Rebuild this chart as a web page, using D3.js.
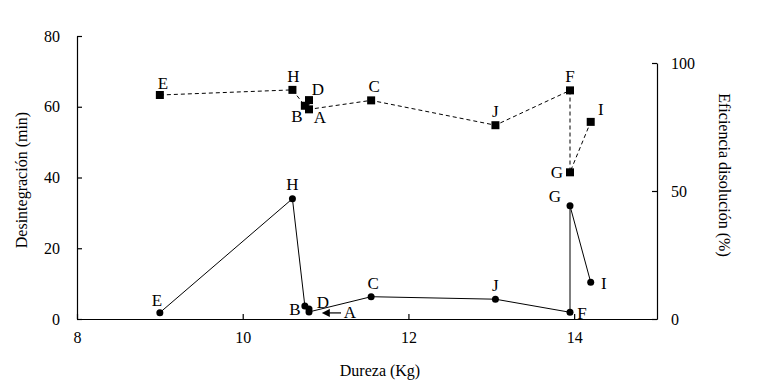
<!DOCTYPE html>
<html>
<head>
<meta charset="utf-8">
<script src="https://cdn.jsdelivr.net/npm/d3@7"></script>
<style>
  body { margin: 0; background: #fff; }
  text { font-family: "Liberation Serif", "DejaVu Serif", serif; fill: #000; }
</style>
</head>
<body>
<div id="chart"></div>
<script>
// tablet formulations, hardness (Kg), disintegration (min), dissolution efficiency (%)
var labels = ["E", "H", "B", "D", "A", "C", "J", "F", "G", "I"];
var dureza = [9.0, 10.6, 10.75, 10.8, 10.8, 11.55, 13.05, 13.95, 13.95, 14.2];
var desintegracion = [1.8, 34, 3.7, 2.8, 2.0, 6.3, 5.6, 1.9, 32, 10.4];
var eficiencia = [87.5, 89.5, 83.3, 85.5, 81.9, 85.4, 75.7, 89.3, 57.3, 77.0];

var xTicks = [8, 10, 12, 14];
var yLeftTicks = [0, 20, 40, 60, 80];
var yRightTicks = [0, 50, 100];

var svgWidth = 760;
var svgHeight = 389;
var serif = "'Liberation Serif', 'DejaVu Serif', serif";

var svg = d3.select("#chart")
  .append("svg")
  .attr("width", svgWidth)
  .attr("height", svgHeight);

var x = d3.scaleLinear().domain([8, 15]).range([77, 657]);
var yLeft = d3.scaleLinear().domain([0, 80]).range([319, 36]);
var yRight = d3.scaleLinear().domain([0, 100]).range([319, 63]);

// axes, ticks pointing inward
svg.append("g")
  .attr("transform", "translate(0,319)")
  .call(d3.axisBottom(x).tickValues(xTicks).tickFormat(d3.format("d"))
    .tickSize(-5).tickSizeOuter(0).tickPadding(13));

svg.append("g")
  .attr("transform", "translate(77,0)")
  .call(d3.axisLeft(yLeft).tickValues(yLeftTicks).tickFormat(d3.format("d"))
    .tickSize(-5).tickSizeOuter(0).tickPadding(17));

svg.append("g")
  .attr("transform", "translate(657,0)")
  .call(d3.axisRight(yRight).tickValues(yRightTicks).tickFormat(d3.format("d"))
    .tickSize(-5).tickSizeOuter(0).tickPadding(14));

svg.selectAll("g")
  .attr("font-family", serif)
  .attr("font-size", 16);
svg.selectAll(".domain, .tick line").attr("stroke", "#000").attr("stroke-width", 1.2);

// axis titles
svg.append("text")
  .attr("x", 380).attr("y", 376)
  .attr("text-anchor", "middle")
  .style("font-size", "16px")
  .text("Dureza (Kg)");

svg.append("text")
  .attr("transform", "translate(27,180) rotate(-90)")
  .attr("text-anchor", "middle")
  .style("font-size", "16px")
  .text("Desintegración (min)");

svg.append("text")
  .attr("transform", "translate(719,175) rotate(90)")
  .attr("text-anchor", "middle")
  .style("font-size", "16px")
  .text("Eficiencia disolución (%)");

var points = labels.map(function(l, i) {
  return { label: l, x: dureza[i], d: desintegracion[i], e: eficiencia[i] };
});

// disintegration: solid line with dots
var lineLeft = d3.line().x(function(p) { return x(p.x); }).y(function(p) { return yLeft(p.d); });
svg.append("path")
  .datum(points)
  .attr("d", lineLeft)
  .attr("fill", "none")
  .attr("stroke", "#000")
  .attr("stroke-width", 1);

svg.selectAll("circle.dot")
  .data(points)
  .enter()
  .append("circle")
  .attr("class", "dot")
  .attr("cx", function(p) { return x(p.x); })
  .attr("cy", function(p) { return yLeft(p.d); })
  .attr("r", 3.5)
  .attr("fill", "#000");

// dissolution efficiency: dashed line with squares
var lineRight = d3.line().x(function(p) { return x(p.x); }).y(function(p) { return yRight(p.e); });
svg.append("path")
  .datum(points)
  .attr("d", lineRight)
  .attr("fill", "none")
  .attr("stroke", "#000")
  .attr("stroke-width", 1)
  .attr("stroke-dasharray", "4,3");

svg.selectAll("rect.sq")
  .data(points)
  .enter()
  .append("rect")
  .attr("class", "sq")
  .attr("x", function(p) { return x(p.x) - 4; })
  .attr("y", function(p) { return yRight(p.e) - 4; })
  .attr("width", 8)
  .attr("height", 8)
  .attr("fill", "#000");

// label offsets (dx, dy from the marker)
var offLower = {
  E: [-3, -7], H: [0, -9], B: [-10, 9], D: [14, -1], A: [41, 6],
  C: [2, -8], J: [0, -8], F: [12, 7], G: [-15, -4], I: [13, 7]
};
var offUpper = {
  E: [3, -6], H: [1, -8], B: [-8, 16], D: [9, -5], A: [11, 14],
  C: [3, -8], J: [0, -8], F: [0, -8], G: [-13, 6], I: [10, -7]
};

svg.selectAll("text.lblLow")
  .data(points)
  .enter()
  .append("text")
  .attr("class", "lblLow")
  .attr("x", function(p) { return x(p.x) + offLower[p.label][0]; })
  .attr("y", function(p) { return yLeft(p.d) + offLower[p.label][1]; })
  .attr("text-anchor", "middle")
  .style("font-size", "17px")
  .text(function(p) { return p.label; });

svg.selectAll("text.lblUp")
  .data(points)
  .enter()
  .append("text")
  .attr("class", "lblUp")
  .attr("x", function(p) { return x(p.x) + offUpper[p.label][0]; })
  .attr("y", function(p) { return yRight(p.e) + offUpper[p.label][1]; })
  .attr("text-anchor", "middle")
  .style("font-size", "17px")
  .text(function(p) { return p.label; });

// arrow pointing to A on the lower curve
var pA = points[4];
svg.append("defs").append("marker")
  .attr("id", "arrow")
  .attr("viewBox", "0 0 10 10")
  .attr("refX", 1).attr("refY", 5)
  .attr("markerWidth", 10).attr("markerHeight", 8)
  .attr("markerUnits", "userSpaceOnUse")
  .attr("orient", "auto-start-reverse")
  .append("path")
  .attr("d", "M0,0L10,5L0,10z")
  .attr("fill", "#000");

svg.append("line")
  .attr("x1", x(pA.x) + 32).attr("y1", yLeft(pA.d) + 1)
  .attr("x2", x(pA.x) + 20).attr("y2", yLeft(pA.d) + 1)
  .attr("stroke", "#000")
  .attr("stroke-width", 1.2)
  .attr("marker-end", "url(#arrow)");
</script>
</body>
</html>
